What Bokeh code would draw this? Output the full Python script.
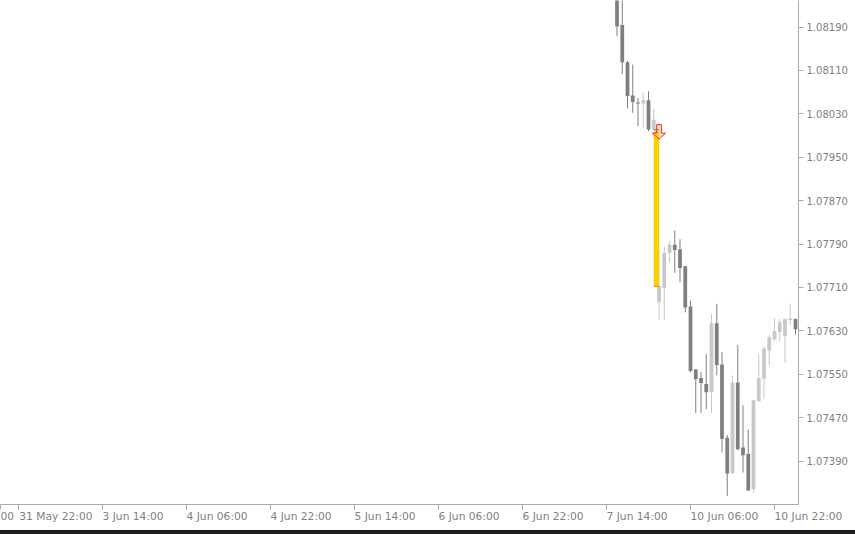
from bokeh.plotting import figure
from bokeh.embed import file_html
from bokeh.resources import INLINE
from bokeh.layouts import column
from bokeh.models import FixedTicker, LinearAxis, Range1d, Div

first_bar = 114
opens = [1.08257,1.08194,1.08125,1.08064,1.08051,1.08049,1.08055,1.08001,1.07683,1.07709,1.07774,1.07789,1.07780,1.07749,1.07675,1.07559,1.07543,1.07532,1.07517,1.07644,1.07568,1.07433,1.07367,1.07535,1.07415,1.07403,1.07338,1.07501,1.07542,1.07594,1.07614,1.07628,1.07621,1.07650,1.07652]
highs = [1.08294,1.08248,1.08128,1.08121,1.08059,1.08069,1.08072,1.08039,1.07782,1.07786,1.07796,1.07815,1.07799,1.07750,1.07686,1.07560,1.07554,1.07587,1.07661,1.07680,1.07591,1.07438,1.07548,1.07604,1.07493,1.07448,1.07503,1.07588,1.07602,1.07622,1.07654,1.07652,1.07653,1.07680,1.07653]
lows = [1.08174,1.08103,1.08040,1.08032,1.08007,1.08005,1.07998,1.07999,1.07651,1.07650,1.07756,1.07737,1.07720,1.07664,1.07554,1.07479,1.07479,1.07486,1.07479,1.07548,1.07406,1.07326,1.07366,1.07410,1.07369,1.07335,1.07332,1.07500,1.07504,1.07566,1.07611,1.07611,1.07571,1.07640,1.07623]
closes = [1.08191,1.08125,1.08063,1.08052,1.08049,1.08055,1.08001,1.08019,1.07713,1.07774,1.07789,1.07779,1.07746,1.07673,1.07556,1.07541,1.07534,1.07517,1.07644,1.07567,1.07431,1.07367,1.07535,1.07412,1.07401,1.07336,1.07502,1.07543,1.07597,1.07618,1.07630,1.07646,1.07652,1.07653,1.07633]

price_ticks = [1.07390,1.07470,1.07550,1.07630,1.07710,1.07790,1.07870,1.07950,1.08030,1.08110,1.08190]
date_ticks = [0,16,32,48,64,80,96,112,128,144]
date_labels = ["31 May 22:00","3 Jun 14:00","4 Jun 06:00","4 Jun 22:00","5 Jun 14:00","6 Jun 06:00","6 Jun 22:00","7 Jun 14:00","10 Jun 06:00","10 Jun 22:00"]
edge_tick = -3.42
edge_label = "00"

trade_open = 1.07999
trade_close = 1.07712
trade_bar = 121

DARK, LIGHT = "#7f7f7f", "#c8c8c8"
AXIS, TEXT = "#a8acb2", "#808080"
FONT = "DejaVu Sans"
NBSP = "\u00a0"

def pad_left(s):
    # Bokeh centres axis labels on their ticks; NBSPs to the left make the
    # visible text start at the tick, as in the reference.
    widths = {" ": .318, ":": .337, "M": .863, "a": .613, "y": .592, "J": .295, "u": .634, "n": .634}
    return NBSP * round(sum(widths.get(c, .636) for c in s) / .318) + s

p = figure(width=855, height=530, output_backend="svg", toolbar_location=None,
           x_range=Range1d(-3.43, 148.57), y_range=Range1d(1.07310, 1.08239),
           min_border_left=0, min_border_top=0, min_border_right=57, min_border_bottom=26,
           x_axis_location=None, y_axis_location=None, tools="", margin=0)
p.grid.visible = False
p.outline_line_color = None
p.background_fill_color = "white"

xs = [first_bar + i for i in range(len(opens))]
for x, o, h, l, c in zip(xs, opens, highs, lows, closes):
    col = LIGHT if c >= o else DARK
    p.segment([x], [h], [x], [l], line_color=col, line_width=1)
    top, bot = max(o, c), min(o, c)
    p.quad(left=[x - 0.36], right=[x + 0.36], top=[top], bottom=[bot], fill_color=col, line_color=None)

# trade bar
p.quad(left=[trade_bar], right=[trade_bar + 1], top=[trade_open], bottom=[trade_close],
       fill_color="#ffcc00", line_color=None)
p.segment([trade_bar], [trade_close], [trade_bar + 1], [trade_close], line_color="#f08020", line_width=1)

# signal arrow, offsets in bars / price
ax = trade_bar + 1.0
py = 0.00001841
ay = 1.08001
arrow_x = [ax - .45, ax + .45, ax + .45, ax + 1.25, ax, ax - 1.25, ax - .45]
arrow_y = [ay + 5 * py, ay + 5 * py, ay - 3.5 * py, ay - 3.5 * py, ay - 9.5 * py, ay - 3.5 * py, ay - 3.5 * py]
p.patch(arrow_x, arrow_y, fill_color="#ffd070", fill_alpha=0.5, line_color="#ff2020", line_width=1)
p.segment([trade_bar], [ay], [trade_bar + 1], [ay], line_color="#4080c0", line_width=1)

yaxis = LinearAxis(ticker=FixedTicker(ticks=price_ticks),
                   major_label_overrides={t: f"{t:.5f}" for t in price_ticks})
x_overrides = {t: pad_left(s) for t, s in zip(date_ticks, date_labels)}
x_overrides[edge_tick] = edge_label
xaxis = LinearAxis(ticker=FixedTicker(ticks=[edge_tick] + date_ticks),
                   major_label_overrides=x_overrides)
for a in (xaxis, yaxis):
    a.axis_line_color = AXIS
    a.major_tick_line_color = AXIS
    a.minor_tick_line_color = None
    a.major_tick_in = 0
    a.major_tick_out = 5
    a.major_label_text_color = TEXT
    a.major_label_text_font = FONT
    a.major_label_text_font_size = "10px"
    a.major_label_standoff = 3
xaxis.major_label_text_font_size = "10.7px"
xaxis.major_label_standoff = 0
p.add_layout(yaxis, "right")
p.add_layout(xaxis, "below")

strip = Div(text="", width=855, height=4, margin=0, styles={"background-color": "#1e1e1e"})
open("out.html", "w").write(file_html(column(p, strip, spacing=0), INLINE))
